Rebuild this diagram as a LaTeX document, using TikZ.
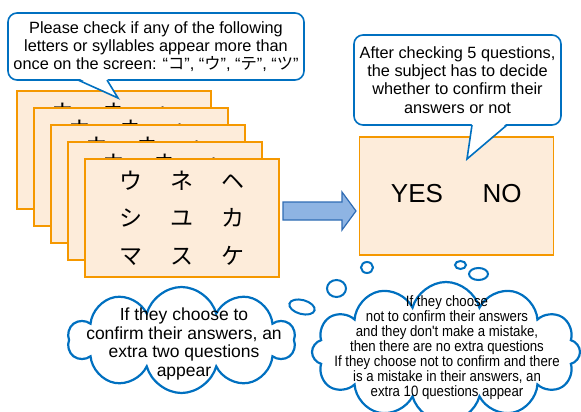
\documentclass[tikz,border=0pt]{standalone}
\usepackage{fontspec}
\setmainfont{Liberation Sans}
\newfontfamily\jpfont{Noto Sans CJK JP}
\newfontfamily\narrowfont[FakeStretch=0.88]{Liberation Sans}
\usetikzlibrary{shapes.symbols}

\definecolor{calloutblue}{RGB}{0,112,192}
\definecolor{cardorange}{RGB}{245,152,0}
\definecolor{cardfill}{RGB}{253,236,218}
\definecolor{arrowfill}{RGB}{142,180,227}
\definecolor{arrowline}{RGB}{47,108,180}

\begin{document}
\begin{tikzpicture}[x=1pt, y=-1pt,
        card/.style={draw=cardorange, line width=1.8pt, fill=cardfill, minimum width=194pt, minimum height=118pt, inner sep=0pt},
        callout/.style={draw=calloutblue, line width=1.6pt, fill=white, rounded corners=9pt, align=center, font=\fontsize{16.3}{18.3}\selectfont},
        thought/.style={draw=calloutblue, line width=2pt, fill=white}]
        \useasboundingbox (0,0) rectangle (581,412);

        % stack of kana cards, back to front
        \foreach \i in {0,...,4}
            \node[card, anchor=north west, align=center, font=\jpfont\fontsize{23}{37.5}\selectfont] (card\i) at (16+17*\i, 90+17*\i)
                {ウ\hspace{28pt}ネ\hspace{28pt}ヘ\\シ\hspace{28pt}ユ\hspace{28pt}カ\\マ\hspace{28pt}ス\hspace{28pt}ケ};

        \node[callout, minimum width=296pt, minimum height=67pt] (hint) at (156,46.5)
            {Please check if any of the following\\letters or syllables appear more than\\once on the screen: “{\jpfont コ}”, “{\jpfont ウ}”, “{\jpfont テ}”, “{\jpfont ツ}”};
        \coordinate (hinttip) at (118,98);
        \fill[white] (78,78) -- (hinttip) -- (107,78) -- cycle;
        \draw[calloutblue, line width=1.6pt, line join=miter] (78,80) -- (hinttip) -- (107,80);

        % block arrow
        \draw[draw=arrowline, fill=arrowfill, line width=1.2pt] (283,202) -- (342,202) -- (342,192) -- (356,211) -- (342,230) -- (342,220) -- (283,220) -- cycle;

        \node[card] (choice) at (456.5,196) {};
        \node[font=\fontsize{26}{30}\selectfont] (yes) at (417,194) {YES};
        \node[font=\fontsize{26}{30}\selectfont] (no) at (502,194) {NO};

        \node[callout, minimum width=207pt, minimum height=90pt] (note) at (457.5,80)
            {After checking 5 questions,\\the subject has to decide\\whether to confirm their\\answers or not};
        \coordinate (notetip) at (467,159);
        \fill[white] (472,123) -- (notetip) -- (507,123) -- cycle;
        \draw[calloutblue, line width=1.6pt, line join=miter] (472,125) -- (notetip) -- (507,125);

        % thought bubbles
        \draw[thought] (367,267.5) ellipse [x radius=6pt, y radius=5.5pt];
        \draw[thought] (336.5,288.5) ellipse [x radius=9.5pt, y radius=8.5pt];
        \draw[thought, rotate around={-15:(302,307)}] (302,307) ellipse [x radius=13pt, y radius=7pt];
        \draw[thought] (460.5,265) ellipse [x radius=5.5pt, y radius=4pt];
        \draw[thought] (478.5,274) ellipse [x radius=9.5pt, y radius=6pt];

        \node[cloud, cloud puffs=10, cloud ignores aspect, thought, line width=2.2pt, minimum width=227pt, minimum height=106pt] (yescloud) at (181.5,340) {};
        \node[align=center, font=\fontsize{17.5}{18.6}\selectfont] (yestext) at (184,344)
            {If they choose to\\confirm their answers, an\\extra two questions\\appear};

        \node[cloud, cloud puffs=12, cloud ignores aspect, thought, line width=2.2pt, minimum width=268pt, minimum height=140pt] (nocloud) at (446,352) {};
        \node[align=center, font=\narrowfont\fontsize{15}{15}\selectfont] (notext) at (447,348)
            {If they choose\\not to confirm their answers\\and they don't make a mistake,\\then there are no extra questions\\If they choose not to confirm and there\\is a mistake in their answers, an\\extra 10 questions appear};
\end{tikzpicture}
\end{document}
